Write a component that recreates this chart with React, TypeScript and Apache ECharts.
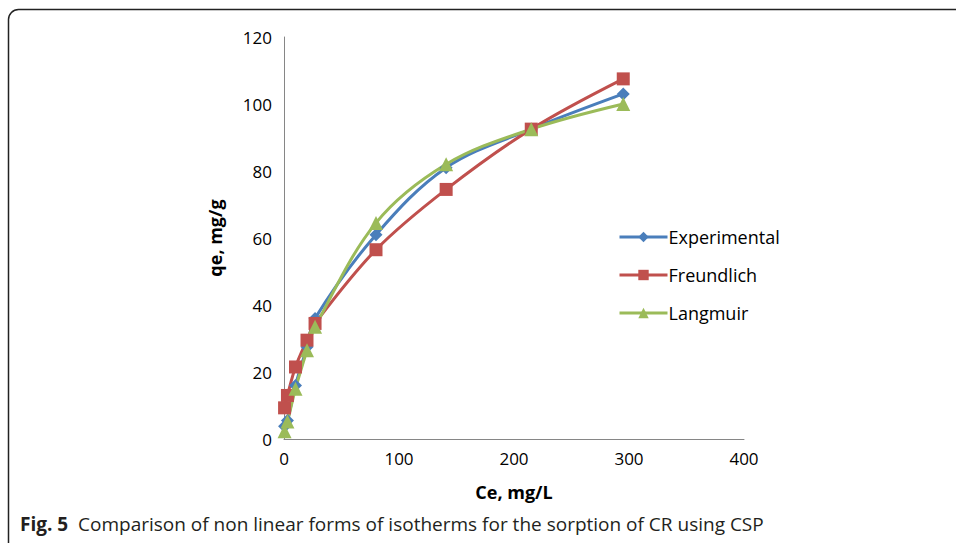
import React, { useEffect, useRef } from "react";
import * as echarts from "echarts";

const ce = [0.5, 3, 10, 20, 27, 80, 141, 215, 295];
const experimental = [3.8, 5.5, 16, 27.5, 36, 61, 81, 92.5, 103];
const freundlich = [9.3, 13, 21.5, 29.5, 34.5, 56.5, 74.5, 92.5, 107.5];
const langmuir = [2.3, 5.2, 15, 26.5, 33.5, 64.5, 82, 92.5, 100];
const seriesNames = ["Experimental", "Freundlich", "Langmuir"];
const caption = "Comparison of non linear forms of isotherms for the sorption of CR using CSP";

const pairs = (ys: number[]) => ce.map((x, i) => [x, ys[i]]);

export default function App() {
  const ref = useRef<HTMLDivElement>(null);
  useEffect(() => {
    if (!ref.current) return;
    const chart = echarts.init(ref.current, null, { renderer: "svg" });
    const font = "'Open Sans', sans-serif";
    const mk = (name: string, data: number[], color: string, symbol: string, size: number) => ({
      name,
      type: "line",
      data: pairs(data),
      smooth: 0.35,
      symbol,
      symbolSize: size,
      lineStyle: { color, width: 3 },
      itemStyle: { color },
      z: 3,
    });
    chart.setOption({
      animation: false,
      backgroundColor: "#ffffff",
      grid: { left: 284, right: 212, top: 37, bottom: 104 },
      xAxis: {
        type: "value",
        min: 0,
        max: 400,
        interval: 100,
        name: "Ce, mg/L",
        nameLocation: "middle",
        nameGap: 44,
        nameTextStyle: { fontFamily: font, fontWeight: "bold", fontSize: 18, color: "#000" },
        axisLine: { show: true, lineStyle: { color: "#868686", width: 1 } },
        axisTick: { show: false },
        splitLine: { show: false },
        axisLabel: { fontFamily: font, fontSize: 17, color: "#000", margin: 11 },
      },
      yAxis: {
        type: "value",
        min: 0,
        max: 120,
        interval: 20,
        name: "qe, mg/g",
        nameLocation: "middle",
        nameGap: 60,
        nameTextStyle: { fontFamily: font, fontWeight: "bold", fontSize: 18, color: "#000" },
        axisLine: { show: true, lineStyle: { color: "#868686", width: 1 } },
        axisTick: { show: false },
        splitLine: { show: false },
        axisLabel: { fontFamily: font, fontSize: 17, color: "#000", margin: 12 },
      },
      legend: {
        orient: "vertical",
        left: 613,
        top: 223,
        itemWidth: 48,
        itemHeight: 13,
        itemGap: 20,
        data: seriesNames,
        lineStyle: { width: 3 },
        textStyle: { fontFamily: font, fontSize: 18, color: "#000", padding: [0, 0, 0, -4] },
      },
      series: [
        mk(seriesNames[0], experimental, "#4A7EBB", "diamond", 13),
        mk(seriesNames[1], freundlich, "#C0504D", "rect", 13),
        mk(seriesNames[2], langmuir, "#9BBB59", "triangle", 14),
      ],
      graphic: [
        {
          type: "rect",
          shape: { x: 8.5, y: 9.5, width: 1000, height: 600, r: 10 },
          style: { fill: "none", stroke: "#222", lineWidth: 1.5 },
          silent: true,
        },
        {
          type: "text",
          x: 20,
          y: 524,
          style: {
            text: "{b|Fig. 5}  " + caption,
            fontFamily: "'Open Sans', 'Noto Sans', sans-serif",
            fontSize: 19,
            fill: "#231f20",
            verticalAlign: "middle",
            rich: {
              b: { fontFamily: "'Open Sans', 'Noto Sans', sans-serif", fontSize: 19, fontWeight: "bold", fill: "#231f20" },
            },
          },
        },
      ],
    });
    return () => chart.dispose();
  }, []);
  return (
    <div
      ref={ref}
      style={{ position: "absolute", left: 0, top: 0, width: 956, height: 543 }}
    />
  );
}
